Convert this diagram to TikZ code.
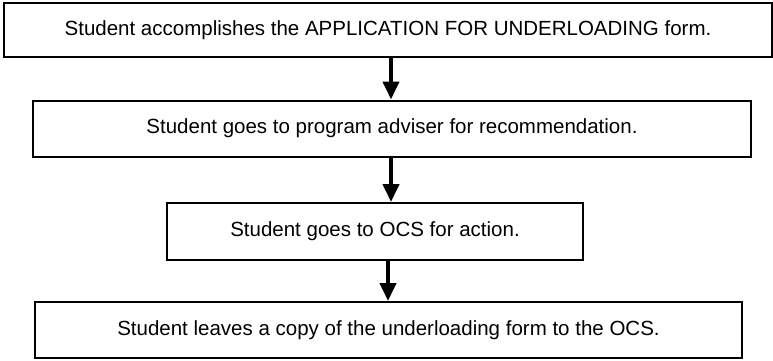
\documentclass[tikz,border=0pt]{standalone}
\usepackage{fontspec}
\setmainfont{Liberation Sans}
\usetikzlibrary{arrows.meta}
\begin{document}
\begin{tikzpicture}[x=1pt,y=1pt,
  stepbox/.style={draw=black,line width=2pt,minimum height=56pt,inner sep=0pt,font=\fontsize{20.5}{24}\selectfont},
  flow/.style={line width=4pt,-{Triangle[width=16pt,length=18pt]},shorten >=0pt}]
\useasboundingbox (0,0) rectangle (773,360);
\node[stepbox,minimum width=768pt,minimum height=54pt] (a) at (388,330) {Student accomplishes the APPLICATION FOR UNDERLOADING form.};
\node[stepbox,minimum width=718pt] (b) at (392,231.5) {Student goes to program adviser for recommendation.};
\node[stepbox,minimum width=416pt,minimum height=57pt] (c) at (375,128.5) {Student goes to OCS for action.};
\node[stepbox,minimum width=707pt] (d) at (388.5,30) {Student leaves a copy of the underloading form to the OCS.};
\draw[flow] (a.south -| 391,0) -- (b.north -| 391,0);
\draw[flow] (b.south -| 391,0) -- (c.north -| 391,0);
\draw[flow] (c.south -| 388,0) -- (d.north -| 388,0);
\end{tikzpicture}
\end{document}
